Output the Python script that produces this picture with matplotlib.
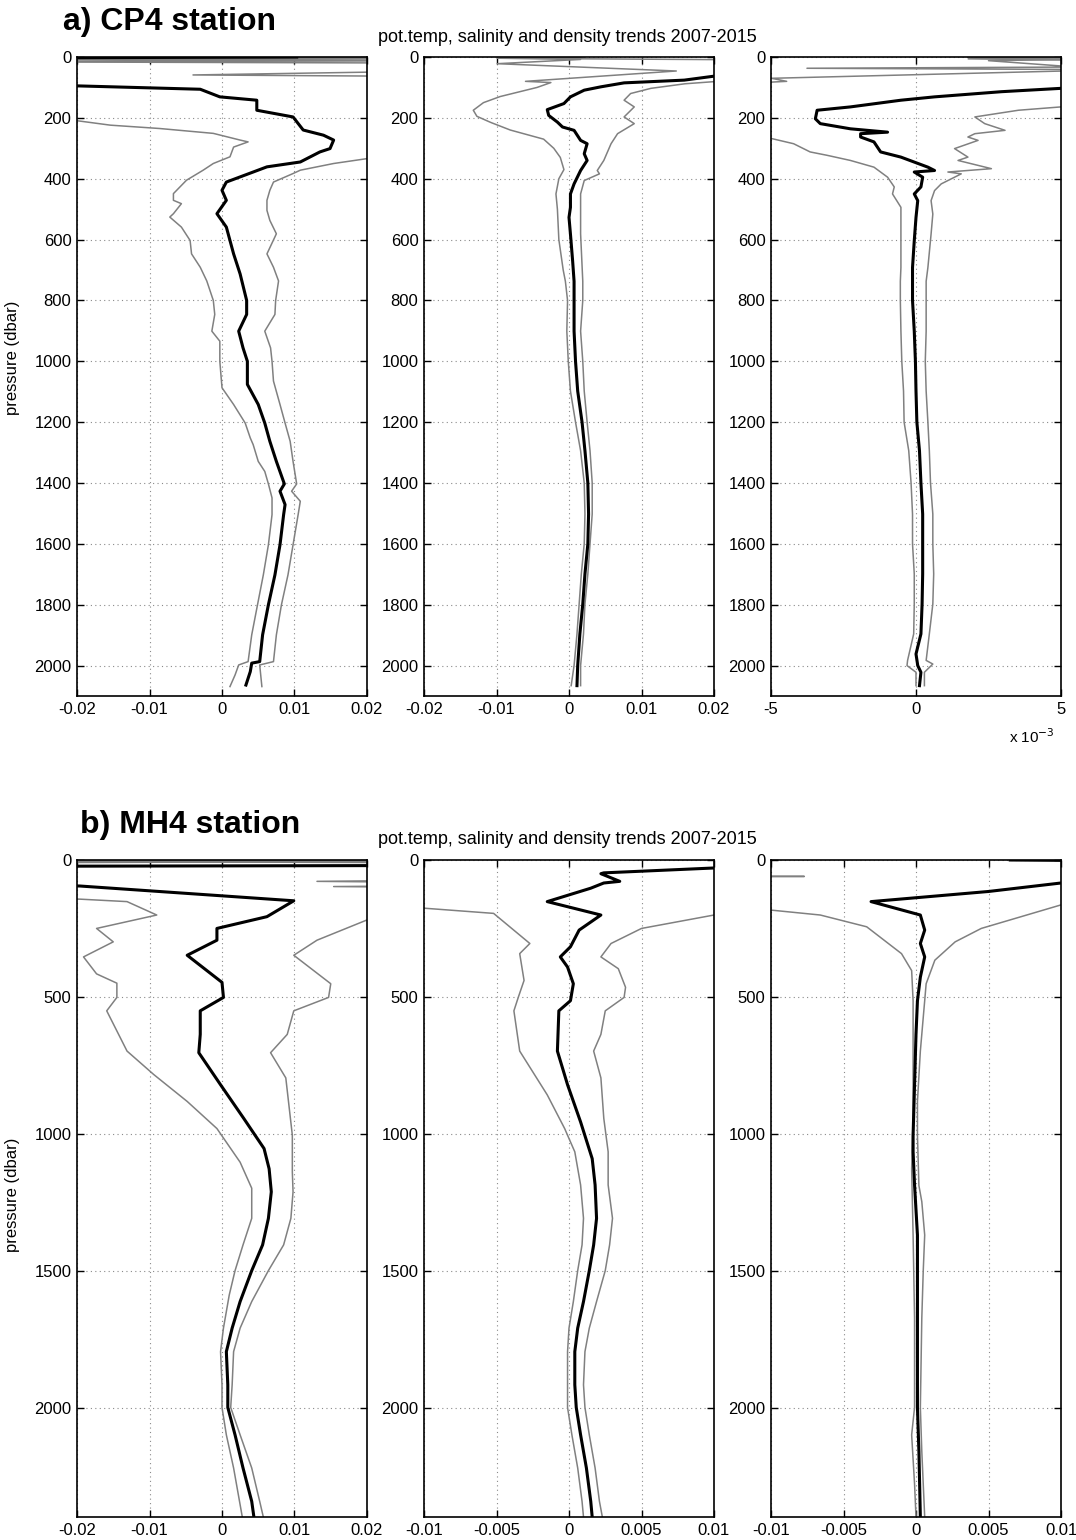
import matplotlib
matplotlib.use('Agg')
import matplotlib.pyplot as plt

plt.rcParams['font.family'] = ['Liberation Sans', 'DejaVu Sans']

# ---- a) CP4 station: trends (values outside xlim = off-scale) ----
# potential temperature
cp4_t_p_mean = [0, 3, 90, 95, 106, 131, 142, 175, 197, 240, 257, 273, 301, 312, 345, 361, 378, 411, 438, 471,
                515, 559, 603, 647, 713, 800, 846, 901, 956, 1000, 1076, 1142, 1203, 1263, 1329, 1403, 1427, 1471,
                1504, 1603, 1702, 1800, 1899, 1987, 1992, 2020, 2064]
cp4_t_mean = [0.0103, -0.03, -0.03, -0.0198, -0.0030, -0.0003, 0.0048, 0.0048, 0.0098, 0.0112, 0.0140, 0.0154,
              0.0149, 0.0135, 0.0108, 0.0062, 0.0043, 0.0006, 0.0000, 0.0006, -0.0007, 0.0006, 0.0011, 0.0016,
              0.0025, 0.0034, 0.0034, 0.0023, 0.0029, 0.0035, 0.0035, 0.0050, 0.0059, 0.0066, 0.0075, 0.0086,
              0.0080, 0.0087, 0.0085, 0.0080, 0.0073, 0.0064, 0.0056, 0.0052, 0.0041, 0.0039, 0.0033]
cp4_t_p_lo = [0, 4, 8, 12, 16, 205, 210, 224, 235, 251, 273, 279, 296, 328, 350, 372, 405, 449, 471, 482,
              515, 526, 559, 603, 647, 691, 736, 800, 846, 901, 934, 1000, 1087, 1142, 1203, 1252, 1274, 1329,
              1362, 1403, 1449, 1504, 1603, 1702, 1800, 1899, 1987, 1998, 2031, 2069]
cp4_t_lo = [-0.03, 0.03, -0.03, 0.03, -0.05, -0.05, -0.0198, -0.0154, -0.0086, -0.0012, 0.0025, 0.0036, 0.0016,
            0.0011, -0.0012, -0.0026, -0.0049, -0.0067, -0.0067, -0.0056, -0.0067, -0.0072, -0.0056, -0.0044,
            -0.0042, -0.0030, -0.0021, -0.0012, -0.0010, -0.0014, -0.0003, -0.0003, 0.0000, 0.0016, 0.0032,
            0.0039, 0.0043, 0.0050, 0.0059, 0.0064, 0.0069, 0.0069, 0.0064, 0.0057, 0.0049, 0.0041, 0.0036,
            0.0023, 0.0018, 0.0011]
cp4_t_p_hi = [0, 6, 11, 16, 20, 46, 59, 64, 330, 334, 350, 372, 383, 411, 438, 471, 504, 537, 581, 647,
              691, 736, 800, 846, 901, 956, 1000, 1065, 1142, 1203, 1263, 1329, 1403, 1427, 1460, 1504, 1603,
              1702, 1800, 1899, 1987, 1998, 2069]
cp4_t_hi = [0.03, -0.03, 0.03, -0.03, 0.03, 0.03, -0.004, 0.03, 0.03, 0.0200, 0.0154, 0.0108, 0.0098, 0.0071,
            0.0066, 0.0062, 0.0062, 0.0066, 0.0075, 0.0062, 0.0071, 0.0078, 0.0074, 0.0073, 0.0059, 0.0067,
            0.0069, 0.0071, 0.0080, 0.0087, 0.0094, 0.0098, 0.0103, 0.0096, 0.0108, 0.0105, 0.0098, 0.0091,
            0.0082, 0.0075, 0.0071, 0.0052, 0.0055]

# salinity
cp4_s_p_mean = [0, 58, 63, 76, 85, 98, 109, 131, 153, 173, 192, 214, 230, 241, 274, 285, 318, 340, 373, 417,
                450, 494, 527, 582, 670, 737, 802, 901, 1000, 1098, 1200, 1294, 1400, 1502, 1600, 1699, 1798,
                1896, 2000, 2066]
cp4_s_mean = [0.03, 0.03, 0.0200, 0.0159, 0.0076, 0.0044, 0.0021, 0.0002, -0.0007, -0.0030, -0.0028, -0.0016,
              -0.0009, 0.0007, 0.0016, 0.0025, 0.0021, 0.0025, 0.0016, 0.0007, 0.0002, 0.0002, 0.0000, 0.0002,
              0.0005, 0.0007, 0.0007, 0.0007, 0.0009, 0.0012, 0.0018, 0.0022, 0.0026, 0.0027, 0.0026, 0.0022,
              0.0019, 0.0015, 0.0012, 0.0011]
cp4_s_p_lo = [0, 4, 8, 22, 46, 80, 84, 100, 130, 150, 175, 195, 215, 240, 270, 300, 330, 370, 400, 450,
              500, 600, 700, 737, 800, 901, 1000, 1098, 1200, 1294, 1400, 1502, 1600, 1699, 1798, 1896, 2000, 2066]
cp4_s_lo = [0.0021, -0.0099, 0.0016, -0.0099, 0.0148, -0.0060, -0.0025, -0.0044, -0.0095, -0.0118, -0.0132,
            -0.0127, -0.0108, -0.0081, -0.0035, -0.0021, -0.0012, -0.0007, -0.0014, -0.0018, -0.0016, -0.0014,
            -0.0008, -0.0005, -0.0002, -0.0003, -0.0001, 0.0002, 0.0009, 0.0016, 0.0021, 0.0022, 0.0021,
            0.0017, 0.0014, 0.0011, 0.0007, 0.0003]
cp4_s_p_hi = [0, 3, 6, 10, 78, 81, 88, 103, 120, 142, 164, 197, 219, 252, 285, 340, 373, 384, 406, 450,
              581, 737, 800, 901, 1000, 1098, 1200, 1294, 1400, 1502, 1600, 1699, 1798, 1896, 2000, 2066]
cp4_s_hi = [0.0016, -0.0095, 0.0020, 0.03, 0.03, 0.0200, 0.0160, 0.0113, 0.0085, 0.0076, 0.0090, 0.0076,
            0.0090, 0.0067, 0.0058, 0.0048, 0.0039, 0.0042, 0.0021, 0.0016, 0.0016, 0.0019, 0.0019, 0.0016,
            0.0019, 0.0021, 0.0025, 0.0029, 0.0032, 0.0032, 0.0029, 0.0026, 0.0022, 0.0020, 0.0016, 0.0016]

# density (units of 1e-3)
cp4_d_p_mean = [0, 100, 103, 114, 131, 142, 164, 175, 203, 219, 236, 247, 252, 263, 279, 312, 329, 362, 373,
                378, 395, 427, 450, 472, 527, 604, 692, 737, 800, 901, 1000, 1098, 1200, 1294, 1400, 1502,
                1600, 1699, 1798, 1896, 1962, 2000, 2022, 2066]
cp4_d_mean = [8, 8, 5.0, 2.95, 0.64, -0.52, -2.26, -3.41, -3.47, -3.30, -2.26, -0.98, -1.91, -1.91, -1.45,
              -1.22, -0.52, 0.41, 0.64, -0.06, 0.23, 0.17, -0.06, 0.06, 0.00, -0.06, -0.12, -0.12, -0.12,
              -0.06, -0.02, 0.0, 0.03, 0.12, 0.17, 0.23, 0.23, 0.23, 0.21, 0.17, 0.0, 0.06, 0.17, 0.12]
cp4_d_p_lo = [0, 3, 6, 10, 14, 45, 70, 80, 85, 265, 268, 285, 312, 323, 340, 362, 395, 427, 450, 494,
              582, 692, 737, 800, 901, 1000, 1098, 1200, 1294, 1400, 1502, 1600, 1699, 1798, 1896, 1983,
              2000, 2022, 2066]
cp4_d_lo = [1.8, 5.5, 1.8, 5.5, 5.5, 5.5, -4.98, -4.46, -5.5, -5.5, -4.98, -4.22, -3.65, -3.07, -2.26, -1.45,
            -0.98, -0.75, -0.81, -0.52, -0.52, -0.52, -0.54, -0.54, -0.52, -0.49, -0.43, -0.41, -0.25, -0.17,
            -0.12, -0.12, -0.06, -0.06, -0.08, -0.29, -0.31, 0.0, 0.0]
cp4_d_p_hi = [0, 4, 8, 12, 33, 37, 41, 160, 164, 175, 197, 219, 241, 252, 263, 274, 301, 329, 340, 367,
              378, 384, 417, 439, 472, 516, 582, 692, 737, 800, 901, 1000, 1098, 1200, 1294, 1400, 1502,
              1600, 1699, 1798, 1896, 1983, 1995, 2022, 2066]
cp4_d_hi = [5.5, 2.0, 5.5, 2.5, 5.5, -3.76, 5.5, 5.5, 5.0, 3.53, 2.03, 2.37, 3.07, 2.03, 1.79, 2.14, 1.33,
            1.79, 1.45, 2.60, 1.10, 1.56, 0.87, 0.64, 0.52, 0.58, 0.52, 0.41, 0.35, 0.35, 0.35, 0.32, 0.35,
            0.41, 0.46, 0.50, 0.58, 0.58, 0.61, 0.58, 0.46, 0.35, 0.58, 0.29, 0.29]

# ---- b) MH4 station ----
mh4_t_p_mean = [0, 20, 23, 90, 95, 149, 207, 250, 293, 348, 447, 502, 551, 637, 704, 821, 944, 1054, 1128,
                1212, 1309, 1406, 1500, 1613, 1710, 1796, 1917, 2000, 2100, 2221, 2343, 2400]
mh4_t_mean = [0.03, 0.03, -0.03, -0.03, -0.0196, 0.0099, 0.0062, -0.0007, -0.0007, -0.0048, 0.0000, 0.0002,
              -0.0030, -0.0030, -0.0032, -0.0002, 0.0030, 0.0058, 0.0065, 0.0068, 0.0064, 0.0056, 0.0041,
              0.0025, 0.0014, 0.0006, 0.0008, 0.0008, 0.0018, 0.0029, 0.0041, 0.0044]
mh4_t_p_lo = [0, 5, 10, 140, 143, 152, 201, 250, 299, 354, 416, 450, 502, 551, 698, 784, 882, 981, 1104,
              1199, 1309, 1406, 1500, 1589, 1710, 1796, 1917, 2000, 2100, 2221, 2400]
mh4_t_lo = [-0.03, 0.03, -0.03, -0.03, -0.0196, -0.0131, -0.0090, -0.0173, -0.0150, -0.0191, -0.0173,
            -0.0145, -0.0145, -0.0159, -0.0131, -0.0094, -0.0048, -0.0007, 0.0025, 0.0041, 0.0041, 0.0029,
            0.0018, 0.0010, 0.0002, -0.0002, 0.0000, 0.0000, 0.0006, 0.0016, 0.0028]
mh4_t_p_hi = [0, 5, 10, 74, 78, 82, 94, 97, 100, 216, 219, 293, 348, 452, 502, 551, 637, 704, 796, 1005,
              1139, 1212, 1309, 1406, 1500, 1613, 1710, 1796, 1917, 2000, 2100, 2221, 2343, 2400]
mh4_t_hi = [0.03, -0.03, 0.03, 0.03, 0.0131, 0.03, 0.03, 0.0154, 0.03, 0.03, 0.0200, 0.0131, 0.0099, 0.0150,
            0.0147, 0.0099, 0.0090, 0.0067, 0.0088, 0.0097, 0.0097, 0.0098, 0.0095, 0.0085, 0.0064, 0.0041,
            0.0025, 0.0016, 0.0014, 0.0012, 0.0025, 0.0041, 0.0052, 0.0057]

mh4_s_p_mean = [0, 28, 47, 50, 78, 84, 103, 152, 201, 256, 317, 354, 391, 452, 514, 551, 698, 821, 957,
                1091, 1187, 1309, 1406, 1500, 1613, 1710, 1796, 1917, 2000, 2100, 2221, 2343, 2400]
mh4_s_mean = [0.015, 0.0105, 0.0024, 0.0022, 0.0035, 0.0024, 0.0015, -0.0015, 0.0022, 0.0007, 0.0001,
              -0.0006, -0.0001, 0.0003, 0.0001, -0.0007, -0.0008, -0.0001, 0.0008, 0.0016, 0.0018, 0.0019,
              0.0017, 0.0014, 0.0010, 0.0006, 0.0004, 0.0004, 0.0005, 0.0008, 0.0012, 0.0015, 0.0016]
mh4_s_p_lo = [0, 170, 176, 195, 305, 342, 440, 502, 551, 698, 858, 981, 1066, 1187, 1309, 1406, 1500, 1613,
              1710, 1796, 1917, 2000, 2100, 2221, 2343, 2400]
mh4_s_lo = [-0.02, -0.02, -0.0100, -0.0052, -0.0027, -0.0034, -0.0031, -0.0035, -0.0038, -0.0034, -0.0015,
            -0.0003, 0.0004, 0.0008, 0.0010, 0.0009, 0.0006, 0.0003, 0.0000, -0.0001, -0.0001, -0.0001,
            0.0002, 0.0006, 0.0009, 0.0010]
mh4_s_p_hi = [0, 195, 201, 250, 305, 354, 397, 465, 502, 551, 637, 698, 796, 944, 1066, 1187, 1309, 1406,
              1500, 1613, 1710, 1796, 1917, 2000, 2100, 2221, 2343, 2400]
mh4_s_hi = [0.02, 0.02, 0.0100, 0.0050, 0.0029, 0.0022, 0.0034, 0.0039, 0.0038, 0.0025, 0.0022, 0.0017,
            0.0022, 0.0024, 0.0027, 0.0027, 0.0030, 0.0028, 0.0025, 0.0019, 0.0014, 0.0011, 0.0010, 0.0011,
            0.0014, 0.0018, 0.0021, 0.0023]

mh4_d_p_mean = [0, 5, 80, 84, 115, 152, 201, 256, 305, 354, 428, 514, 637, 821, 1005, 1066, 1187, 1370,
                1500, 1674, 2000, 2160, 2400]
mh4_d_mean = [0.0065, 0.02, 0.02, 0.0100, 0.0050, -0.0031, 0.0003, 0.0006, 0.0003, 0.0006, 0.0003, 0.0001,
              0.0000, -0.0001, -0.0002, -0.0002, -0.0001, 0.0001, 0.0001, 0.0001, 0.0001, 0.0002, 0.0003]
mh4_d_p_lo = [0, 58, 60, 62, 180, 183, 201, 244, 342, 404, 514, 760, 944, 1128, 1370, 1674, 1917, 2000,
              2100, 2279, 2400]
mh4_d_lo = [-0.02, -0.02, -0.0077, -0.02, -0.02, -0.0100, -0.0066, -0.0034, -0.0010, -0.0003, -0.0002,
            -0.0002, -0.0002, -0.0003, -0.0002, -0.0001, -0.0001, -0.0001, -0.0003, -0.0001, 0.0000]
mh4_d_p_hi = [0, 160, 164, 250, 299, 366, 452, 575, 698, 882, 1005, 1189, 1248, 1370, 1500, 1674, 2000,
              2160, 2400]
mh4_d_hi = [0.02, 0.02, 0.0100, 0.0045, 0.0027, 0.0013, 0.0007, 0.0005, 0.0003, 0.0001, 0.0001, 0.0002,
            0.0004, 0.0006, 0.0005, 0.0004, 0.0003, 0.0004, 0.0006]

# ticks
xt_02 = [-0.02, -0.01, 0, 0.01, 0.02]
xl_02 = ['-0.02', '-0.01', '0', '0.01', '0.02']
xt_01 = [-0.01, -0.005, 0, 0.005, 0.01]
xl_01 = ['-0.01', '-0.005', '0', '0.005', '0.01']
xt_5 = [-5, 0, 5]
xl_5 = ['-5', '0', '5']
yt_top = list(range(0, 2001, 200))
yt_bot = list(range(0, 2001, 500))

title = 'pot.temp, salinity and density trends 2007-2015'

fig = plt.figure(figsize=(10.76, 15.40), dpi=100)

W, H = 1076.0, 1540.0
lefts = [77, 424, 771]
width = 290


def make_ax(left, top, bottom):
    return fig.add_axes([left / W, 1 - bottom / H, width / W, (bottom - top) / H])


def draw(ax, lines, xlim, xticks, xlabels, ylim, yticks):
    (pm, m), (pl, lo), (ph, hi) = lines
    ax.plot(lo, pl, color='#808080', lw=1.1)
    ax.plot(hi, ph, color='#808080', lw=1.1)
    ax.plot(m, pm, color='black', lw=2.2)
    ax.set_xlim(*xlim)
    ax.set_ylim(ylim, 0)
    ax.set_xticks(xticks)
    ax.set_xticklabels(xlabels)
    ax.set_yticks(yticks)
    ax.set_yticklabels([str(v) for v in yticks])
    ax.grid(True, linestyle=(0, (1, 3)), color='#8a8a8a', lw=0.8)
    ax.tick_params(direction='in', length=5, width=1.0, top=True, right=True, labelsize=12, pad=4)
    for s in ax.spines.values():
        s.set_linewidth(1.2)


top_panels = [
    ((cp4_t_p_mean, cp4_t_mean), (cp4_t_p_lo, cp4_t_lo), (cp4_t_p_hi, cp4_t_hi)),
    ((cp4_s_p_mean, cp4_s_mean), (cp4_s_p_lo, cp4_s_lo), (cp4_s_p_hi, cp4_s_hi)),
    ((cp4_d_p_mean, cp4_d_mean), (cp4_d_p_lo, cp4_d_lo), (cp4_d_p_hi, cp4_d_hi)),
]
top_x = [((-0.02, 0.02), xt_02, xl_02), ((-0.02, 0.02), xt_02, xl_02), ((-5, 5), xt_5, xl_5)]

bot_panels = [
    ((mh4_t_p_mean, mh4_t_mean), (mh4_t_p_lo, mh4_t_lo), (mh4_t_p_hi, mh4_t_hi)),
    ((mh4_s_p_mean, mh4_s_mean), (mh4_s_p_lo, mh4_s_lo), (mh4_s_p_hi, mh4_s_hi)),
    ((mh4_d_p_mean, mh4_d_mean), (mh4_d_p_lo, mh4_d_lo), (mh4_d_p_hi, mh4_d_hi)),
]
bot_x = [((-0.02, 0.02), xt_02, xl_02), ((-0.01, 0.01), xt_01, xl_01), ((-0.01, 0.01), xt_01, xl_01)]

for i in range(3):
    ax = make_ax(lefts[i], 57, 696)
    xl, xt, xlab = top_x[i]
    draw(ax, top_panels[i], xl, xt, xlab, 2100, yt_top)
    if i == 0:
        ax.set_ylabel('pressure (dbar)', fontsize=12)
        ax.yaxis.set_label_coords(-0.195, 0.53)

for i in range(3):
    ax = make_ax(lefts[i], 860, 1517)
    xl, xt, xlab = bot_x[i]
    draw(ax, bot_panels[i], xl, xt, xlab, 2400, yt_bot)
    if i == 0:
        ax.set_ylabel('pressure (dbar)', fontsize=12)
        ax.yaxis.set_label_coords(-0.195, 0.49)

fig.text(63 / W, 1 - 22 / H, 'a) CP4 station', fontsize=23, fontweight='bold', ha='left', va='center')
fig.text(567 / W, 1 - 37 / H, title, fontsize=13, ha='center', va='center')
fig.text(80 / W, 1 - 825 / H, 'b) MH4 station', fontsize=23, fontweight='bold', ha='left', va='center')
fig.text(567 / W, 1 - 840 / H, title, fontsize=13, ha='center', va='center')
fig.text(1032 / W, 1 - 737 / H, r'x 10$^{-3}$', fontsize=11, ha='center', va='center')

fig.savefig('out.png', dpi=100)
